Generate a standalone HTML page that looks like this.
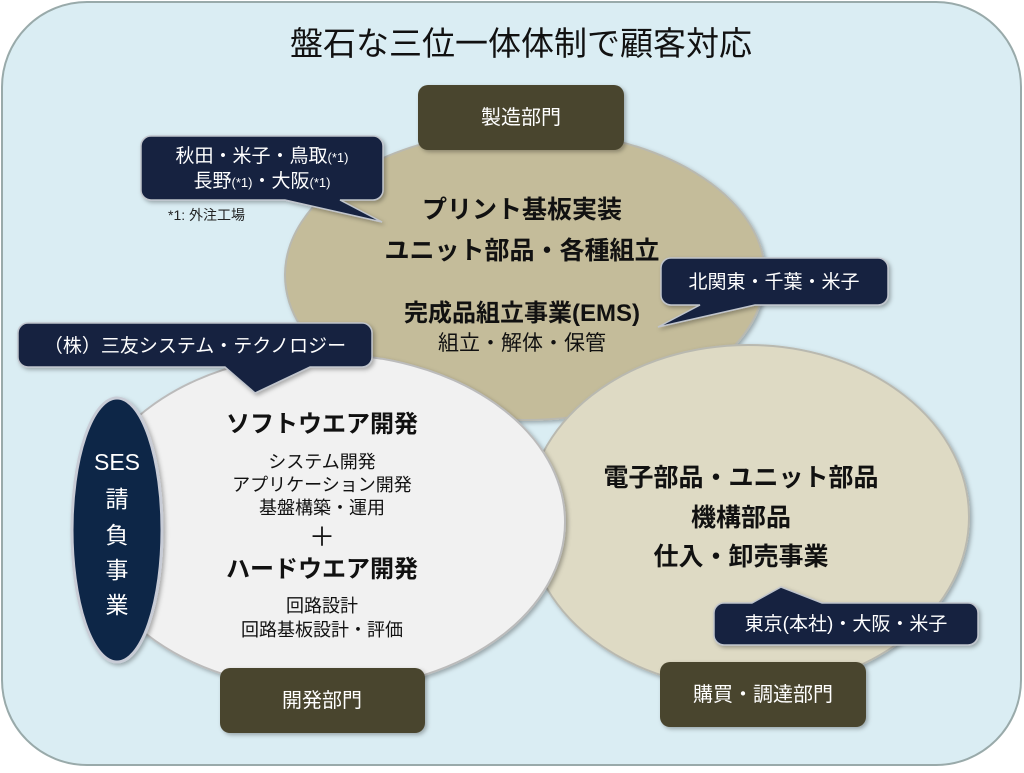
<!DOCTYPE html>
<html><head><meta charset="utf-8"><style>
body{margin:0;background:#fff}
svg text{font-family:"Liberation Sans","Noto Sans CJK JP",sans-serif}
</style></head><body>
<svg width="1024" height="768" viewBox="0 0 1024 768" xmlns="http://www.w3.org/2000/svg">
<defs><filter id="sh" x="-10%" y="-10%" width="130%" height="130%"><feDropShadow dx="2" dy="2" stdDeviation="2" flood-color="#000" flood-opacity="0.3"/></filter></defs>
<rect x="2" y="2" width="1019" height="763" rx="85" fill="#daedf3" stroke="#9aa" stroke-width="2"/>
<text x="521" y="55" font-size="33" text-anchor="middle" fill="#111">盤石な三位一体体制で顧客対応</text>
<ellipse cx="525" cy="275" rx="240" ry="145" fill="#c4bc9a" stroke="#b9b9b0" stroke-width="2" filter="url(#sh)"/>
<ellipse cx="748" cy="517" rx="221" ry="172" fill="#dedac4" stroke="#b9b9b0" stroke-width="2" filter="url(#sh)"/>
<ellipse cx="325" cy="522" rx="240" ry="168" fill="#f1f1f1" stroke="#bbb" stroke-width="2" filter="url(#sh)"/>
<ellipse cx="117" cy="530" rx="45" ry="132" fill="#0f2547" stroke="#c8ccd6" stroke-width="3" filter="url(#sh)"/>
<g fill="#fff" font-size="23" text-anchor="middle"><text x="117" y="470">SES</text><text x="117" y="507">請</text><text x="117" y="543">負</text><text x="117" y="578">事</text><text x="117" y="613">業</text></g>
<g filter="url(#sh)">
<rect x="418" y="85" width="206" height="65" rx="10" fill="#4a452d"/>
<rect x="220" y="668" width="205" height="65" rx="10" fill="#4a452d"/>
<rect x="660" y="662" width="206" height="65" rx="10" fill="#4a452d"/>
</g>
<g fill="#fff" font-size="20" text-anchor="middle"><text x="521" y="124">製造部門</text><text x="322" y="707">開発部門</text><text x="763" y="701">購買・調達部門</text></g>
<g fill="#12243f" stroke="#c0c4cc" stroke-width="1.5" filter="url(#sh)">
<path d="M151 136H373a10 10 0 0 1 10 10V190a10 10 0 0 1-10 10H340L382 222L285 200H151a10 10 0 0 1-10-10V146a10 10 0 0 1 10-10Z"/>
<path d="M28 323H362a10 10 0 0 1 10 10V357a10 10 0 0 1-10 10H310L255 393L225 367H28a10 10 0 0 1-10-10V333a10 10 0 0 1 10-10Z"/>
<path d="M671 258H878a10 10 0 0 1 10 10V295a10 10 0 0 1-10 10H755L658 327L700 305H671a10 10 0 0 1-10-10V268a10 10 0 0 1 10-10Z"/>
<path d="M724 603H752L781 587L822 603H968a10 10 0 0 1 10 10V635a10 10 0 0 1-10 10H724a10 10 0 0 1-10-10V613a10 10 0 0 1 10-10Z"/>
</g>
<g fill="#fff" font-size="19" text-anchor="middle">
<text x="262" y="162">秋田・米子・鳥取<tspan font-size="13">(*1)</tspan></text>
<text x="262" y="187">長野<tspan font-size="13">(*1)</tspan>・大阪<tspan font-size="13">(*1)</tspan></text>
<text x="195" y="352">（株）三友システム・テクノロジー</text>
<text x="774" y="288">北関東・千葉・米子</text>
<text x="846" y="630">東京(本社)・大阪・米子</text>
</g>
<text x="168" y="220" font-size="14" fill="#222">*1: 外注工場</text>
<g fill="#111" text-anchor="middle">
<text x="522" y="218" font-size="25" font-weight="bold">プリント基板実装</text>
<text x="522" y="259" font-size="25" font-weight="bold">ユニット部品・各種組立</text>
<text x="522" y="321" font-size="24" font-weight="bold">完成品組立事業(EMS)</text>
<text x="522" y="350" font-size="21">組立・解体・保管</text>
<text x="741" y="486" font-size="25" font-weight="bold">電子部品・ユニット部品</text>
<text x="741" y="526" font-size="25" font-weight="bold">機構部品</text>
<text x="741" y="565" font-size="25" font-weight="bold">仕入・卸売事業</text>
<text x="322" y="432" font-size="24" font-weight="bold">ソフトウエア開発</text>
<text x="322" y="468" font-size="18">システム開発</text>
<text x="322" y="491" font-size="18">アプリケーション開発</text>
<text x="322" y="514" font-size="18">基盤構築・運用</text>
<text x="322" y="546" font-size="26">＋</text>
<text x="322" y="577" font-size="24" font-weight="bold">ハードウエア開発</text>
<text x="322" y="612" font-size="18">回路設計</text>
<text x="322" y="636" font-size="18">回路基板設計・評価</text>
</g>
</svg>
</body></html>
